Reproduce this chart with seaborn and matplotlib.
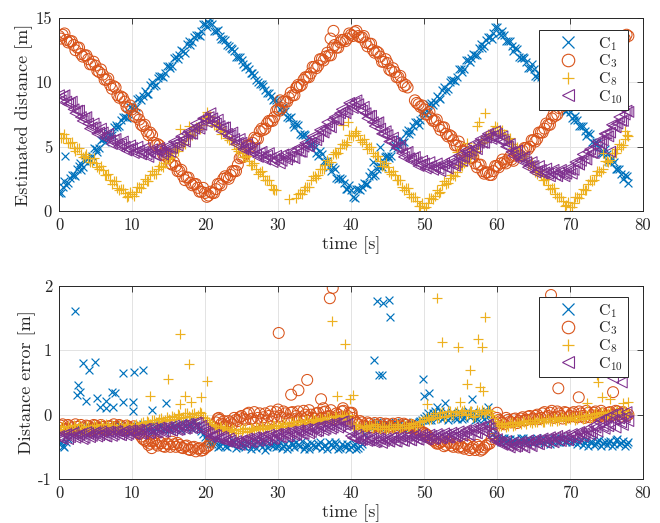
import numpy as np
import pandas as pd
import matplotlib
matplotlib.use("Agg")
import matplotlib.pyplot as plt
import seaborn as sns
from matplotlib.lines import Line2D

nan = np.nan

# ---------------- data ----------------
sensors = ["C1", "C3", "C8", "C10"]
legend_labels = ["C$_{1}$", "C$_{3}$", "C$_{8}$", "C$_{10}$"]
x_ticks = [0, 10, 20, 30, 40, 50, 60, 70, 80]
est_y_ticks = [0, 5, 10, 15]
err_y_ticks = [-1, 0, 1, 2]
err_y_ticklabels = ["-1", "0", "1", "2"]

# sample times of the band readings (s): two interleaved sample sets
time_a = np.arange(0.0, 78.01, 0.5)    # 0, 0.5, ..., 78
time_b = np.arange(0.25, 77.76, 0.5)   # 0.25, 0.75, ..., 77.75

# ---- estimated distance [m] ----
est_c1_a = [
    1.4, 1.9, 2.0, 2.6, 2.8, 3.3, 3.2, 3.9, 4.1, 4.3,
    4.8, 4.9, 5.6, 5.7, 5.9, 6.5, 6.5, 7.1, 7.3, 7.5,
    8.0, 8.1, 8.8, 8.9, 9.1, 9.8, 9.7, 10.3, 10.5, 10.7,
    11.3, 11.3, 12.0, 12.1, 12.4, 13.0, 12.9, 13.5, 13.7, 14.0,
    14.5, 14.6, 14.5, 14.0, 13.6, 13.4, 12.9, 12.7, 12.4, 12.0,
    11.7, 11.2, 11.0, 10.7, 10.2, 9.9, 9.7, 9.2, 8.9, 8.7,
    8.4, 7.7, 7.8, 7.2, 6.8, 6.8, 6.0, 6.0, 5.5, 5.1,
    5.0, 4.3, 4.4, 3.8, 3.4, 3.4, 2.6, 2.6, 2.2, 1.7,
    1.6, 1.0, 1.7, 1.9, 2.1, 2.7, 2.7, 3.3, 3.5, 3.8,
    4.3, 4.3, 5.1, 5.2, 5.4, 6.1, 6.0, 6.6, 6.9, 7.1,
    7.6, 7.7, 8.4, 8.5, 8.8, 9.4, 9.3, 10.0, 10.2, 10.4,
    11.0, 11.0, 11.7, 11.9, 12.1, 12.7, 12.7, 13.3, 13.5, 13.8,
    14.3, 13.7, 13.7, 13.2, 12.8, 12.7, 12.0, 12.0, 11.6, 11.1,
    11.0, 10.4, 10.4, 9.9, 9.5, 9.4, 8.7, 8.7, 8.3, 7.8,
    7.7, 7.1, 7.1, 6.6, 6.2, 6.1, 5.4, 5.4, 5.0, 4.5,
    4.4, 3.8, 3.8, 3.3, 2.9, 2.8, 2.2]
est_c1_b = [
    1.4, 2.3, 2.2, 2.8, 2.7, 3.5, 3.4, 4.1, 3.9, 4.9,
    4.6, 5.5, 5.4, 6.1, 5.9, 6.7, 6.6, 7.3, 7.2, 8.1,
    7.9, 8.7, 8.6, 9.3, 9.1, 10.0, 9.8, 10.5, 10.4, 11.3,
    11.1, 11.9, 11.8, 12.5, 12.3, 13.2, 13.1, 13.7, 13.6, 14.5,
    14.3, 14.9, 14.0, 14.1, 13.4, 13.3, 12.8, 12.6, 12.0, 12.0,
    11.4, 11.3, 10.7, 10.6, 10.0, 9.9, 9.4, 9.2, 8.6, 8.6,
    7.9, 8.1, 7.3, 7.3, 6.5, 6.7, 5.9, 5.9, 5.1, 5.4,
    4.5, 4.7, 3.9, 3.9, 3.1, 3.3, 2.5, 2.5, 1.7, 2.0,
    1.1, 1.7, 1.6, 2.2, 2.1, 3.0, 2.8, 3.5, 3.4, 4.3,
    4.1, 5.0, 4.9, 5.6, 5.4, 6.3, 6.2, 6.9, 6.7, 7.7,
    7.5, 8.3, 8.2, 8.9, 8.7, 9.6, 9.5, 10.2, 10.1, 11.0,
    10.8, 11.7, 11.6, 12.2, 12.1, 13.0, 12.8, 13.5, 13.4, 14.3,
    13.8, 14.0, 13.2, 13.2, 12.4, 12.6, 11.9, 11.9, 11.1, 11.4,
    10.5, 10.7, 9.9, 9.9, 9.1, 9.3, 8.6, 8.6, 7.8, 8.1,
    7.2, 7.4, 6.6, 6.6, 5.8, 6.0, 5.3, 5.3, 4.5, 4.8,
    3.9, 4.1, 3.3, 3.3, 2.5, 2.7]
est_c3_a = [
    13.6, 13.7, 13.3, 13.2, 12.9, 12.7, 12.2, 12.1, 11.8, 11.4,
    11.3, 10.8, 10.6, 10.2, 9.8, 9.7, 9.0, 8.9, 8.5, 8.0,
    7.9, 7.3, 7.1, 6.6, 6.2, 6.1, 5.3, 5.2, 4.8, 4.3,
    4.1, 3.6, 3.5, 3.1, 2.7, 2.6, 2.2, 2.1, 1.8, 1.5,
    1.4, 1.2, 1.4, 1.7, 2.1, 2.5, 2.6, 2.8, 3.1, 3.6,
    4.2, 4.5, 5.1, 5.3, 5.6, 6.2, 6.3, 6.8, 7.0, 7.3,
    7.9, 8.0, 8.5, 8.8, 9.0, 9.6, 9.7, 10.2, 10.4, 10.7,
    11.2, 11.3, 11.8, 12.0, 12.1, 12.7, 12.7, 13.1, 13.3, 13.4,
    13.7, 13.9, 13.6, 13.5, 13.1, 13.0, 12.5, 12.4, 12.0, 11.6,
    11.5, 10.9, 10.8, 10.4, 10.0, 9.8, nan, nan, 8.4, 8.1,
    7.9, 7.5, 7.2, 7.0, 6.6, 6.5, 6.0, 5.9, 5.5, 5.1,
    5.0, 4.6, 4.5, 4.1, 3.7, 3.6, 3.1, 3.0, 2.8, 3.1,
    3.5, 3.7, 3.8, 4.0, 4.0, 4.3, 4.3, 4.7, 4.9, 5.0,
    5.5, 5.6, 6.1, 6.4, 6.7, 7.2, 7.4, 8.0, 8.3, 8.5,
    9.0, 9.3, 9.6, 10.0, 10.3, 10.6, 11.0, 11.3, 11.6, 11.9,
    12.2, 12.5, 12.7, 13.0, 13.2, 13.4, 13.6]
est_c3_b = [
    13.4, 13.8, 13.1, 13.2, 12.5, 12.7, 12.0, 12.1, 11.4, 11.6,
    10.9, 11.0, 10.2, 10.3, 9.5, 9.6, 8.8, 8.8, 8.1, 8.2,
    7.4, 7.5, 6.7, 6.7, 5.9, 5.9, 5.1, 5.1, 4.4, 4.5,
    3.7, 3.8, 3.1, 3.2, 2.4, 2.6, 2.0, 2.1, 1.5, 1.8,
    1.1, 1.5, 1.4, 2.1, 2.0, 2.7, 2.5, 3.1, 3.1, 4.1,
    4.2, 5.1, 5.0, 5.7, 5.6, 6.4, 6.4, 7.0, 7.0, 7.8,
    7.8, 8.5, 8.5, 9.2, 9.0, 9.8, 9.8, 10.4, 10.4, 11.2,
    11.1, 11.8, 11.7, 12.3, 12.1, 12.9, 12.7, 13.3, 13.2, 13.8,
    13.6, 14.0, 13.5, 13.6, 12.8, 13.0, 12.3, 12.3, 11.6, 11.8,
    11.0, 11.1, 10.4, 10.5, 9.7, 9.6, nan, 8.6, 8.3, 8.2,
    7.5, 7.7, 7.0, 7.1, 6.3, 6.5, 5.8, 5.8, 5.1, 5.4,
    4.7, 4.8, 4.1, 4.2, 3.4, 3.6, 2.9, 3.0, 2.8, 3.5,
    3.4, 4.0, 3.7, 4.2, 3.9, 4.5, 4.3, 4.9, 4.8, 5.5,
    5.4, 6.1, 6.1, 6.8, 6.7, 7.5, 7.5, 8.3, 8.2, 9.0,
    9.0, 9.7, 9.7, 10.4, 10.2, 11.0, 11.0, 11.6, 11.5, 12.3,
    12.2, 12.9, 12.7, 13.3, 13.1, 13.7]
est_c8_a = [
    6.1, 5.7, 5.7, 5.3, 4.9, 4.9, 4.4, 4.3, 4.1, 3.8,
    3.7, 3.3, 3.2, 2.8, 2.4, 2.3, 1.8, 1.7, 1.4, 1.2,
    1.3, 1.5, 1.9, 2.1, 2.3, 2.8, 2.9, 3.3, 3.5, 3.7,
    4.2, 4.3, 4.8, 5.0, 5.2, 5.8, 5.8, 6.3, 6.5, 6.7,
    7.2, 7.3, 7.0, 6.6, 6.4, 6.2, 5.7, 5.5, 5.2, 4.7,
    4.5, 4.2, 3.9, 3.6, 3.3, 3.0, 2.7, 2.4, 2.0, 1.6,
    nan, nan, nan, 0.9, nan, 1.0, 1.4, 1.6, 1.9, 2.4,
    2.7, 2.8, 3.3, 3.6, 3.8, 4.4, 4.4, 4.9, 5.2, 5.4,
    5.9, 6.1, 5.9, 5.4, 5.2, 5.0, 4.5, 4.3, 3.9, 3.5,
    3.4, 2.9, 2.8, 2.4, 1.9, 1.8, 1.3, 1.1, 0.8, 0.4,
    0.2, 0.6, 1.0, 1.2, 1.4, 2.0, 2.1, 2.6, 2.8, 3.0,
    3.6, 3.7, 4.2, 4.4, 4.6, 5.2, 5.3, 5.8, 6.0, 6.2,
    6.5, 6.1, 6.0, 5.6, 5.2, 5.0, 4.5, 4.3, 4.0, 3.6,
    3.4, 2.9, 2.8, 2.4, 2.0, 1.8, 1.3, 1.1, 0.8, 0.5,
    0.3, 0.6, 1.1, 1.3, 1.6, 2.1, 2.3, 2.8, 3.1, 3.3,
    3.9, 4.0, 4.5, 4.8, 5.0, 5.6, 5.8]
est_c8_b = [
    5.7, 6.0, 5.3, 5.4, 4.7, 4.9, 4.2, 4.4, 3.8, 4.1,
    3.4, 3.5, 2.8, 2.9, 2.1, 2.3, 1.6, 1.7, 1.1, 1.5,
    1.2, 1.9, 1.8, 2.5, 2.3, 3.1, 2.9, 3.5, 3.4, 4.2,
    4.1, 4.8, 4.7, 5.4, 5.2, 6.0, 5.9, 6.5, 6.4, 7.2,
    7.0, 7.4, 6.7, 6.8, 6.0, 6.2, 5.5, 5.5, 4.8, 4.9,
    4.2, 4.3, 3.6, 3.7, 2.9, 3.1, 2.4, 2.4, 1.7, 1.6,
    nan, nan, nan, nan, nan, 1.3, 1.3, 1.9, 1.9, 2.7,
    2.6, 3.3, 3.3, 4.0, 3.8, 4.6, 4.5, 5.2, 5.1, 5.9,
    5.8, 6.2, 5.5, 5.6, 4.8, 5.0, 4.3, 4.3, 3.5, 3.7,
    3.0, 3.1, 2.4, 2.4, 1.6, 1.8, 1.1, 1.1, 0.4, 0.6,
    0.3, 1.0, 0.9, 1.6, 1.5, 2.3, 2.2, 2.8, 2.7, 3.6,
    3.5, 4.2, 4.1, 4.8, 4.7, 5.5, 5.4, 6.0, 5.9, 6.6,
    6.1, 6.3, 5.6, 5.7, 4.9, 5.0, 4.3, 4.3, 3.6, 3.8,
    3.0, 3.1, 2.4, 2.5, 1.7, 1.8, 1.1, 1.1, 0.4, 0.7,
    0.3, 1.1, 1.0, 1.7, 1.6, 2.4, 2.4, 3.1, 3.0, 3.9,
    3.8, 4.5, 4.5, 5.2, 5.1, 5.9]
est_c10_a = [
    9.0, 8.9, 8.5, 8.4, 7.9, 7.8, 7.3, 7.2, 6.8, 6.5,
    6.5, 6.1, 6.1, 5.8, 5.5, 5.5, 5.2, 5.2, 5.0, 4.8,
    4.9, 4.6, 4.7, 4.6, 4.4, 4.6, 4.4, 4.7, 4.6, 4.6,
    4.9, 4.9, 5.3, 5.4, 5.5, 6.0, 6.0, 6.4, 6.6, 6.7,
    7.2, 7.3, 7.2, 6.8, 6.6, 6.5, 6.0, 5.9, 5.6, 5.3,
    5.3, 4.9, 4.9, 4.7, 4.4, 4.5, 4.2, 4.3, 4.1, 4.0,
    4.1, 3.9, 4.2, 4.2, 4.2, 4.7, 4.6, 5.0, 5.1, 5.3,
    5.7, 5.8, 6.2, 6.4, 6.6, 7.1, 7.1, 7.6, 7.7, 7.9,
    8.3, 8.4, 8.3, 7.8, 7.6, 7.4, 6.9, 6.8, 6.4, 6.0,
    5.9, 5.4, 5.3, 4.9, 4.5, 4.5, 4.1, 4.1, 3.8, 3.6,
    3.7, 3.4, 3.5, 3.4, 3.3, 3.5, 3.4, 3.7, 3.7, 3.8,
    4.2, 4.2, 4.6, 4.7, 4.9, 5.3, 5.3, 5.7, 5.8, 5.8,
    6.0, 5.5, 5.4, 5.0, 4.6, 4.6, 4.2, 4.1, 3.8, 3.5,
    3.5, 3.1, 3.2, 3.0, 2.9, 3.0, 2.8, 3.0, 2.9, 2.9,
    3.2, 3.2, 3.7, 3.9, 4.1, 4.6, 4.5, 5.0, 5.3, 5.5,
    6.0, 6.1, 6.6, 6.8, 7.0, 7.5, 7.7]
est_c10_b = [
    8.6, 9.0, 8.3, 8.5, 7.6, 7.8, 7.0, 7.3, 6.4, 6.8,
    6.0, 6.4, 5.7, 6.0, 5.2, 5.6, 5.0, 5.4, 4.7, 5.1,
    4.5, 5.0, 4.4, 4.9, 4.2, 4.8, 4.3, 4.9, 4.4, 5.0,
    4.6, 5.4, 5.1, 5.8, 5.4, 6.2, 6.0, 6.8, 6.4, 7.2,
    6.9, 7.6, 6.9, 7.1, 6.2, 6.5, 5.8, 6.1, 5.2, 5.6,
    4.8, 5.2, 4.6, 4.9, 4.2, 4.6, 4.0, 4.5, 3.8, 4.3,
    3.7, 4.4, 4.0, 4.6, 4.1, 4.9, 4.6, 5.3, 5.0, 5.8,
    5.5, 6.3, 6.1, 6.9, 6.5, 7.3, 7.1, 7.9, 7.6, 8.4,
    8.0, 8.6, 7.9, 8.1, 7.2, 7.4, 6.6, 6.9, 6.0, 6.2,
    5.4, 5.7, 4.9, 5.1, 4.2, 4.6, 3.9, 4.2, 3.5, 3.9,
    3.3, 3.8, 3.2, 3.7, 3.1, 3.7, 3.3, 4.0, 3.5, 4.3,
    3.9, 4.7, 4.4, 5.2, 4.8, 5.6, 5.3, 6.0, 5.6, 6.2,
    5.5, 5.8, 5.0, 5.2, 4.3, 4.7, 3.9, 4.2, 3.4, 3.8,
    3.0, 3.5, 2.9, 3.3, 2.7, 3.2, 2.7, 3.2, 2.7, 3.3,
    2.9, 3.8, 3.6, 4.4, 4.0, 4.8, 4.5, 5.4, 5.2, 6.0,
    5.8, 6.7, 6.5, 7.3, 7.0, 7.8]

# isolated estimates off the main bands
est_c1_extra_t = [0.8, 2.9, 43.0, 44.0, 44.7]
est_c1_extra_v = [4.3, 3.7, 3.8, 5.0, 4.2]
est_c3_extra_t = [30.3, 32.6, 37.2, 37.6]
est_c3_extra_v = [8.6, 9.6, 13.4, 14.0]
est_c8_extra_t = [16.6, 17.8, 20.3, 38.9, 39.6, 54.5, 55.9, 57.2, 57.6, 58.4, 74.5, 77.5]
est_c8_extra_v = [6.4, 6.6, 7.7, 6.7, 6.9, 4.6, 5.3, 6.6, 6.9, 7.6, 4.5, 6.2]
est_c10_extra_t = [75.5]
est_c10_extra_v = [4.6]

# ---- distance error [m] ----
err_c1_a = [
    -0.45, -0.48, -0.42, -0.30, -0.25, -0.20, -0.28, -0.22, -0.18, -0.25,
    -0.20, -0.26, -0.18, -0.24, -0.20, -0.15, -0.22, -0.18, -0.25, -0.20,
    -0.18, -0.24, -0.20, -0.15, -0.22, -0.18, -0.25, -0.20, -0.16, -0.22,
    -0.20, -0.15, -0.22, -0.18, -0.12, -0.20, -0.15, -0.10, -0.18, -0.25,
    -0.35, -0.42, -0.45, -0.40, -0.48, -0.44, -0.50, -0.46, -0.42, -0.48,
    -0.45, -0.50, -0.44, -0.48, -0.52, -0.46, -0.42, -0.50, -0.47, -0.44,
    -0.48, -0.52, -0.45, -0.50, -0.46, -0.42, -0.49, -0.53, -0.46, -0.44,
    -0.48, -0.45, -0.52, -0.47, -0.43, -0.50, -0.46, -0.52, -0.48, -0.45,
    -0.50, -0.46, -0.52, -0.45, -0.22, -0.15, -0.18, -0.12, -0.16, -0.20,
    -0.14, -0.18, -0.12, -0.16, -0.20, -0.13, -0.17, -0.12, -0.15, -0.10,
    -0.05, 0.02, -0.08, 0.05, -0.02, -0.06, 0.04, -0.04, 0.00, -0.07,
    0.03, -0.05, 0.06, -0.02, -0.08, 0.02, -0.04, 0.05, -0.10, -0.30,
    -0.38, -0.42, -0.36, -0.40, -0.44, -0.38, -0.41, -0.36, -0.43, -0.39,
    -0.42, -0.37, -0.40, -0.44, -0.38, -0.41, -0.36, -0.42, -0.39, -0.43,
    -0.38, -0.41, -0.45, -0.40, -0.44, -0.48, -0.42, -0.46, -0.40, -0.44,
    -0.47, -0.41, -0.45, -0.38, -0.44, -0.48, -0.42]
err_c1_b = [
    -0.42, -0.50, -0.38, -0.26, -0.22, -0.27, -0.19, -0.24, -0.28, -0.17,
    -0.24, -0.19, -0.27, -0.17, -0.23, -0.26, -0.16, -0.24, -0.19, -0.27,
    -0.21, -0.17, -0.26, -0.19, -0.15, -0.25, -0.20, -0.14, -0.24, -0.18,
    -0.23, -0.17, -0.14, -0.24, -0.18, -0.13, -0.22, -0.16, -0.21, -0.30,
    -0.40, -0.46, -0.41, -0.51, -0.43, -0.49, -0.44, -0.40, -0.52, -0.45,
    -0.48, -0.42, -0.53, -0.45, -0.41, -0.50, -0.55, -0.44, -0.49, -0.51,
    -0.43, -0.49, -0.54, -0.44, -0.51, -0.47, -0.41, -0.50, -0.53, -0.47,
    -0.51, -0.43, -0.48, -0.54, -0.46, -0.42, -0.53, -0.45, -0.50, -0.53,
    -0.47, -0.54, -0.48, -0.30, -0.18, -0.21, -0.14, -0.19, -0.23, -0.13,
    -0.19, -0.15, -0.21, -0.13, -0.17, -0.22, -0.14, -0.18, -0.11, -0.08,
    -0.02, -0.09, 0.03, -0.05, 0.06, -0.03, -0.08, 0.02, -0.05, 0.04,
    -0.06, 0.01, -0.03, 0.04, -0.06, 0.03, -0.07, -0.02, -0.20, -0.35,
    -0.40, -0.37, -0.43, -0.38, -0.41, -0.45, -0.37, -0.42, -0.38, -0.44,
    -0.39, -0.43, -0.37, -0.41, -0.45, -0.38, -0.43, -0.37, -0.41, -0.40,
    -0.43, -0.39, -0.42, -0.47, -0.39, -0.43, -0.47, -0.41, -0.49, -0.42,
    -0.43, -0.49, -0.40, -0.46, -0.41, -0.45]
err_c3_a = [
    -0.20, -0.15, -0.22, -0.18, -0.25, -0.19, -0.16, -0.23, -0.18, -0.21,
    -0.17, -0.22, -0.19, -0.24, -0.18, -0.15, -0.21, -0.18, -0.23, -0.19,
    -0.22, -0.25, -0.30, -0.38, -0.42, -0.45, -0.40, -0.48, -0.44, -0.50,
    -0.46, -0.42, -0.50, -0.47, -0.52, -0.48, -0.55, -0.50, -0.53, -0.56,
    -0.52, -0.48, -0.30, -0.12, -0.08, -0.15, -0.20, -0.12, -0.05, -0.10,
    -0.02, -0.08, 0.03, -0.06, -0.10, 0.02, -0.04, -0.09, 0.05, -0.03,
    0.08, -0.05, 0.02, -0.08, 0.04, -0.02, -0.07, 0.06, -0.04, 0.00,
    -0.06, 0.03, -0.05, 0.05, -0.02, -0.08, 0.02, -0.04, 0.06, -0.02,
    0.02, -0.10, -0.15, -0.12, -0.18, -0.14, -0.20, -0.16, -0.13, -0.19,
    -0.15, -0.20, -0.17, -0.13, -0.19, -0.16, -0.21, -0.18, -0.22, -0.25,
    -0.28, -0.32, -0.38, -0.42, -0.45, -0.41, -0.47, -0.44, -0.50, -0.46,
    -0.49, -0.53, -0.48, -0.52, -0.55, -0.50, -0.54, -0.48, -0.45, -0.30,
    -0.05, -0.10, -0.15, -0.08, -0.12, -0.06, -0.10, -0.04, -0.08, -0.02,
    -0.06, 0.00, -0.05, 0.04, -0.02, 0.06, -0.03, 0.02, -0.06, 0.03,
    -0.02, 0.04, -0.04, 0.02, -0.05, 0.03, -0.01, 0.05, -0.03, 0.02,
    -0.02, 0.04, 0.00, 0.05, -0.03, 0.02, 0.00]
err_c3_b = [
    -0.17, -0.23, -0.16, -0.21, -0.15, -0.24, -0.20, -0.17, -0.24, -0.16,
    -0.21, -0.16, -0.23, -0.18, -0.22, -0.19, -0.16, -0.24, -0.17, -0.22,
    -0.18, -0.28, -0.34, -0.40, -0.47, -0.41, -0.45, -0.42, -0.49, -0.45,
    -0.50, -0.46, -0.44, -0.51, -0.49, -0.54, -0.51, -0.57, -0.52, -0.55,
    -0.50, -0.42, -0.20, -0.06, -0.14, -0.18, -0.10, -0.15, -0.08, -0.04,
    -0.06, 0.01, -0.07, 0.04, -0.05, -0.08, 0.02, -0.02, -0.07, 0.04,
    -0.02, 0.05, -0.06, 0.03, -0.07, 0.05, -0.04, 0.00, 0.07, -0.05,
    0.02, -0.07, 0.04, -0.03, 0.07, -0.05, 0.00, 0.05, -0.06, 0.03,
    -0.05, -0.13, -0.10, -0.17, -0.12, -0.19, -0.13, -0.18, -0.21, -0.14,
    -0.18, -0.14, -0.21, -0.17, -0.14, -0.20, -0.16, -0.20, -0.24, -0.27,
    -0.30, -0.36, -0.40, -0.45, -0.43, -0.49, -0.42, -0.48, -0.45, -0.51,
    -0.51, -0.46, -0.55, -0.50, -0.47, -0.56, -0.51, -0.46, -0.38, -0.15,
    -0.08, -0.13, -0.05, -0.11, -0.07, -0.13, -0.06, -0.09, -0.03, -0.07,
    -0.02, -0.07, 0.02, -0.04, 0.03, -0.05, 0.05, -0.02, 0.04, -0.04,
    0.02, -0.03, 0.05, -0.02, 0.06, -0.04, 0.03, -0.02, 0.06, -0.03,
    0.03, -0.01, 0.06, 0.01, 0.04, -0.02]
err_c8_a = [
    -0.22, -0.18, -0.25, -0.20, -0.16, -0.22, -0.19, -0.24, -0.18, -0.21,
    -0.17, -0.22, -0.19, -0.15, -0.21, -0.18, -0.23, -0.16, -0.20, -0.17,
    -0.19, -0.14, -0.18, -0.12, -0.10, -0.14, -0.08, -0.11, -0.05, -0.09,
    -0.06, -0.02, -0.07, 0.00, -0.04, 0.02, -0.03, 0.03, -0.01, 0.02,
    -0.05, -0.12, -0.16, -0.20, -0.18, -0.24, -0.22, -0.27, -0.24, -0.28,
    -0.25, -0.21, -0.26, -0.22, -0.19, -0.23, -0.20, -0.17, -0.21, -0.18,
    -0.16, -0.19, -0.14, -0.17, -0.12, -0.15, -0.11, -0.14, -0.09, -0.12,
    -0.08, -0.11, -0.06, -0.09, -0.04, -0.08, -0.03, -0.06, -0.02, -0.05,
    -0.15, -0.20, -0.17, -0.22, -0.19, -0.16, -0.21, -0.18, -0.23, -0.19,
    -0.22, -0.18, -0.21, -0.17, -0.20, -0.16, -0.19, -0.14, -0.17, -0.12,
    -0.08, -0.03, -0.07, 0.02, -0.04, 0.04, -0.02, 0.05, 0.00, 0.06,
    0.02, 0.07, 0.01, 0.05, -0.02, 0.04, 0.08, 0.02, 0.05, -0.05,
    -0.15, -0.18, -0.14, -0.17, -0.12, -0.16, -0.13, -0.10, -0.14, -0.11,
    -0.09, -0.12, -0.08, -0.11, -0.07, -0.10, -0.06, -0.09, -0.05, -0.08,
    -0.06, -0.04, -0.07, -0.02, -0.05, -0.01, -0.04, 0.02, -0.02, 0.03,
    0.00, 0.04, -0.01, 0.05, 0.02, 0.06, 0.03]
err_c8_b = [
    -0.19, -0.24, -0.17, -0.23, -0.20, -0.15, -0.22, -0.17, -0.23, -0.16,
    -0.20, -0.15, -0.23, -0.18, -0.16, -0.22, -0.17, -0.21, -0.15, -0.20,
    -0.16, -0.20, -0.13, -0.16, -0.12, -0.08, -0.12, -0.06, -0.10, -0.04,
    -0.08, -0.04, 0.01, -0.05, 0.03, -0.02, 0.01, -0.04, 0.04, -0.03,
    -0.09, -0.14, -0.18, -0.22, -0.21, -0.19, -0.25, -0.22, -0.29, -0.23,
    -0.23, -0.27, -0.20, -0.24, -0.21, -0.18, -0.22, -0.19, -0.16, -0.20,
    -0.17, -0.13, -0.18, -0.11, -0.16, -0.10, -0.15, -0.09, -0.13, -0.07,
    -0.10, -0.05, -0.10, -0.03, -0.07, -0.02, -0.07, 0.00, -0.04, -0.01,
    -0.18, -0.16, -0.21, -0.17, -0.22, -0.18, -0.15, -0.22, -0.17, -0.22,
    -0.18, -0.22, -0.15, -0.21, -0.16, -0.20, -0.13, -0.17, -0.11, -0.10,
    -0.05, -0.09, 0.00, -0.05, 0.03, -0.03, 0.06, -0.01, 0.04, 0.00,
    0.05, 0.00, 0.06, -0.03, 0.07, 0.01, 0.04, 0.07, 0.00, -0.10,
    -0.17, -0.13, -0.19, -0.13, -0.17, -0.11, -0.15, -0.12, -0.09, -0.13,
    -0.11, -0.07, -0.12, -0.06, -0.10, -0.05, -0.10, -0.04, -0.09, -0.05,
    -0.03, -0.08, -0.02, -0.06, 0.00, -0.05, 0.01, -0.03, 0.04, -0.01,
    0.03, -0.02, 0.04, 0.00, 0.05, 0.01]
err_c10_a = [
    -0.33, -0.38, -0.30, -0.35, -0.28, -0.34, -0.30, -0.36, -0.29, -0.33,
    -0.27, -0.32, -0.28, -0.34, -0.27, -0.31, -0.26, -0.32, -0.25, -0.30,
    -0.25, -0.30, -0.24, -0.29, -0.22, -0.28, -0.23, -0.27, -0.21, -0.26,
    -0.20, -0.25, -0.19, -0.23, -0.17, -0.21, -0.15, -0.20, -0.13, -0.17,
    -0.26, -0.30, -0.34, -0.32, -0.38, -0.36, -0.42, -0.40, -0.45, -0.43,
    -0.40, -0.44, -0.38, -0.42, -0.36, -0.40, -0.34, -0.39, -0.33, -0.37,
    -0.30, -0.35, -0.29, -0.33, -0.27, -0.31, -0.25, -0.30, -0.23, -0.27,
    -0.20, -0.25, -0.18, -0.22, -0.16, -0.20, -0.14, -0.18, -0.10, -0.14,
    -0.33, -0.37, -0.34, -0.39, -0.36, -0.40, -0.37, -0.42, -0.38, -0.41,
    -0.40, -0.36, -0.41, -0.37, -0.40, -0.35, -0.39, -0.34, -0.38, -0.35,
    -0.35, -0.38, -0.33, -0.37, -0.32, -0.36, -0.31, -0.35, -0.30, -0.33,
    -0.30, -0.27, -0.31, -0.25, -0.28, -0.22, -0.25, -0.18, -0.21, -0.36,
    -0.38, -0.43, -0.45, -0.48, -0.46, -0.50, -0.45, -0.48, -0.43, -0.46,
    -0.42, -0.45, -0.40, -0.43, -0.38, -0.41, -0.36, -0.40, -0.35, -0.38,
    -0.35, -0.32, -0.34, -0.29, -0.31, -0.26, -0.28, -0.20, -0.12, -0.18,
    -0.05, -0.15, -0.08, 0.02, -0.12, -0.04, -0.10]
err_c10_b = [
    -0.37, -0.31, -0.38, -0.29, -0.36, -0.31, -0.38, -0.27, -0.35, -0.29,
    -0.34, -0.26, -0.33, -0.26, -0.33, -0.25, -0.31, -0.27, -0.32, -0.24,
    -0.30, -0.23, -0.30, -0.22, -0.29, -0.21, -0.28, -0.20, -0.27, -0.19,
    -0.24, -0.17, -0.24, -0.16, -0.22, -0.14, -0.21, -0.12, -0.19, -0.22,
    -0.28, -0.35, -0.31, -0.37, -0.34, -0.40, -0.37, -0.44, -0.41, -0.47,
    -0.42, -0.37, -0.43, -0.35, -0.41, -0.34, -0.40, -0.31, -0.38, -0.30,
    -0.35, -0.28, -0.34, -0.26, -0.32, -0.24, -0.30, -0.22, -0.29, -0.21,
    -0.26, -0.18, -0.24, -0.15, -0.22, -0.13, -0.20, -0.11, -0.16, -0.25,
    -0.36, -0.31, -0.40, -0.35, -0.41, -0.36, -0.43, -0.37, -0.44, -0.37,
    -0.42, -0.35, -0.42, -0.34, -0.41, -0.33, -0.40, -0.32, -0.39, -0.31,
    -0.39, -0.31, -0.38, -0.30, -0.37, -0.29, -0.36, -0.28, -0.34, -0.26,
    -0.33, -0.24, -0.32, -0.21, -0.29, -0.19, -0.27, -0.15, -0.28, -0.41,
    -0.42, -0.47, -0.41, -0.51, -0.43, -0.49, -0.42, -0.51, -0.40, -0.49,
    -0.39, -0.46, -0.37, -0.44, -0.35, -0.43, -0.33, -0.41, -0.32, -0.40,
    -0.30, -0.37, -0.27, -0.34, -0.23, -0.31, -0.17, -0.26, -0.08, -0.22,
    -0.18, 0.00, -0.20, -0.06, -0.16, 0.04]

err_c1_extra_t = [2.2, 3.3, 4.1, 4.9, 2.6, 2.9, 2.5, 3.7, 5.2, 5.6, 6.4, 7.2, 7.7, 6.5, 7.4,
                  8.8, 10.3, 11.5, 8.7, 10.2, 10.2, 14.6, 12.7, 43.5, 44.4, 45.2, 45.4,
                  43.2, 43.9, 44.3, 49.9, 50.0, 50.7, 52.9, 56.6, 58.8, 51.8]
err_c1_extra_v = [1.61, 0.80, 0.70, 0.82, 0.46, 0.35, 0.30, 0.22, 0.26, 0.12, 0.22, 0.35, 0.33,
                  0.10, 0.12, 0.65, 0.66, 0.69, 0.19, 0.19, 0.05, 0.18, 0.07, 1.76, 1.73, 1.78,
                  1.52, 0.85, 0.62, 0.62, 0.55, 0.29, 0.33, 0.18, 0.24, 0.12, 0.12]
err_c3_extra_t = [12.7, 30.1, 31.8, 32.8, 34.0, 35.9, 36.2, 37.1, 37.5, 38.9, 40.1, 60.0,
                  67.4, 68.4, 71.2, 75.9, 21.9, 22.6]
err_c3_extra_v = [-0.52, 1.27, 0.31, 0.38, 0.54, 0.24, 0.10, 1.81, 1.97, 0.10, 0.03, 0.03,
                  1.86, 0.41, 0.27, 0.35, -0.05, -0.10]
err_c8_extra_t = [16.6, 17.8, 14.9, 20.3, 12.4, 17.3, 19.5, 16.6, 18.1, 37.4, 39.2, 38.1, 40.3,
                  39.9, 51.8, 58.4, 52.4, 54.6, 57.4, 57.9, 56.3, 55.9, 57.7, 58.1, 50.4, 54.9,
                  73.7, 73.8, 72.3, 74.4, 77.3, 78.0, 75.5]
err_c8_extra_v = [1.25, 0.78, 0.55, 0.52, 0.29, 0.29, 0.27, 0.16, 0.20, 1.46, 1.10, 0.29, 0.31,
                  0.25, 1.81, 1.52, 1.13, 1.05, 1.17, 1.05, 0.69, 0.48, 0.43, 0.37, 0.16, 0.20,
                  0.62, 0.50, 0.18, 0.27, 0.18, 0.20, 0.25]
err_c10_extra_t = [75.9, 77.1]
err_c10_extra_v = [0.57, 0.50]

# ---------------- tables ----------------
def build(bands_a, bands_b, extras_t, extras_v):
    frames = []
    for s, ba, bb, et, ev in zip(sensors, bands_a, bands_b, extras_t, extras_v):
        assert len(ba) == len(time_a), (s, "a", len(ba))
        assert len(bb) == len(time_b), (s, "b", len(bb))
        frames.append(pd.DataFrame({"time": time_a, "value": ba, "sensor": s}))
        frames.append(pd.DataFrame({"time": time_b, "value": bb, "sensor": s}))
        frames.append(pd.DataFrame({"time": et, "value": ev, "sensor": s}))
    return pd.concat(frames, ignore_index=True).dropna()


est_df = build([est_c1_a, est_c3_a, est_c8_a, est_c10_a],
               [est_c1_b, est_c3_b, est_c8_b, est_c10_b],
               [est_c1_extra_t, est_c3_extra_t, est_c8_extra_t, est_c10_extra_t],
               [est_c1_extra_v, est_c3_extra_v, est_c8_extra_v, est_c10_extra_v])
err_df = build([err_c1_a, err_c3_a, err_c8_a, err_c10_a],
               [err_c1_b, err_c3_b, err_c8_b, err_c10_b],
               [err_c1_extra_t, err_c3_extra_t, err_c8_extra_t, err_c10_extra_t],
               [err_c1_extra_v, err_c3_extra_v, err_c8_extra_v, err_c10_extra_v])

# ---------------- style ----------------
sns.set_style("white")
plt.rcParams["font.family"] = "serif"
plt.rcParams["font.serif"] = ["cmr10", "DejaVu Serif"]
plt.rcParams["mathtext.fontset"] = "cm"
plt.rcParams["axes.unicode_minus"] = False

colors = {"C1": "#0072BD", "C3": "#D95319", "C8": "#EDB120", "C10": "#7E2F8E"}
markers = {"C1": "x", "C3": "o", "C8": "+", "C10": "<"}
sizes = {"C1": 32, "C3": 62, "C8": 52, "C10": 60}

fig = plt.figure(figsize=(6.6, 5.23), dpi=100)
ax_top = fig.add_axes([59 / 660, 1 - 211 / 523, 584 / 660, 193 / 523])
ax_bot = fig.add_axes([59 / 660, 1 - 479 / 523, 584 / 660, 193 / 523])


def draw(ax, df):
    for s in sensors:
        sub = df[df["sensor"] == s]
        if markers[s] in ("x", "+"):
            sns.scatterplot(data=sub, x="time", y="value", ax=ax, marker=markers[s],
                            color=colors[s], s=sizes[s], linewidth=0.85, legend=False)
        else:
            sns.scatterplot(data=sub, x="time", y="value", ax=ax, marker=markers[s],
                            s=sizes[s], facecolor="none", edgecolor=colors[s],
                            linewidth=0.75, legend=False)


def style(ax, yticks, yticklabels, ylim, ylabel, legend_top):
    ax.set_xlim(0, 80)
    ax.set_ylim(*ylim)
    ax.set_xticks(x_ticks)
    ax.set_xticklabels([str(v) for v in x_ticks])
    ax.set_yticks(yticks)
    ax.set_yticklabels(yticklabels)
    ax.grid(True, color="#E3E3E3", linewidth=0.7)
    ax.set_axisbelow(True)
    for sp in ax.spines.values():
        sp.set_color("#262626")
        sp.set_linewidth(0.7)
        sp.set_visible(True)
    ax.tick_params(direction="in", length=4, width=0.6, top=True, right=True,
                   labelsize=12, colors="#262626", pad=5)
    ax.set_xlabel("time [s]", fontsize=13, color="#262626", labelpad=2)
    ax.set_ylabel(ylabel, fontsize=13, color="#262626", labelpad=2)
    handles = []
    for s, lab in zip(sensors, legend_labels):
        if markers[s] in ("x", "+"):
            h = Line2D([], [], linestyle="none", marker=markers[s], color=colors[s],
                       markersize=8, markeredgewidth=0.9, label=lab)
        else:
            h = Line2D([], [], linestyle="none", marker=markers[s], markerfacecolor="none",
                       markeredgecolor=colors[s], markersize=9, markeredgewidth=0.8, label=lab)
        handles.append(h)
    leg = ax.legend(handles=handles, loc="upper right",
                    bbox_to_anchor=(628 / 660, legend_top), bbox_transform=fig.transFigure,
                    fontsize=11.5, frameon=True, fancybox=False, framealpha=1,
                    edgecolor="#262626", borderpad=0.3, labelspacing=0.0,
                    handlelength=3.0, handletextpad=0.4, borderaxespad=0)
    leg.get_frame().set_linewidth(0.7)


draw(ax_top, est_df)
draw(ax_bot, err_df)
style(ax_top, est_y_ticks, [str(v) for v in est_y_ticks], (0, 15),
      "Estimated distance [m]", 1 - 30 / 523)
style(ax_bot, err_y_ticks, err_y_ticklabels, (-1, 2),
      "Distance error [m]", 1 - 297 / 523)

fig.savefig("out.png", dpi=100)
